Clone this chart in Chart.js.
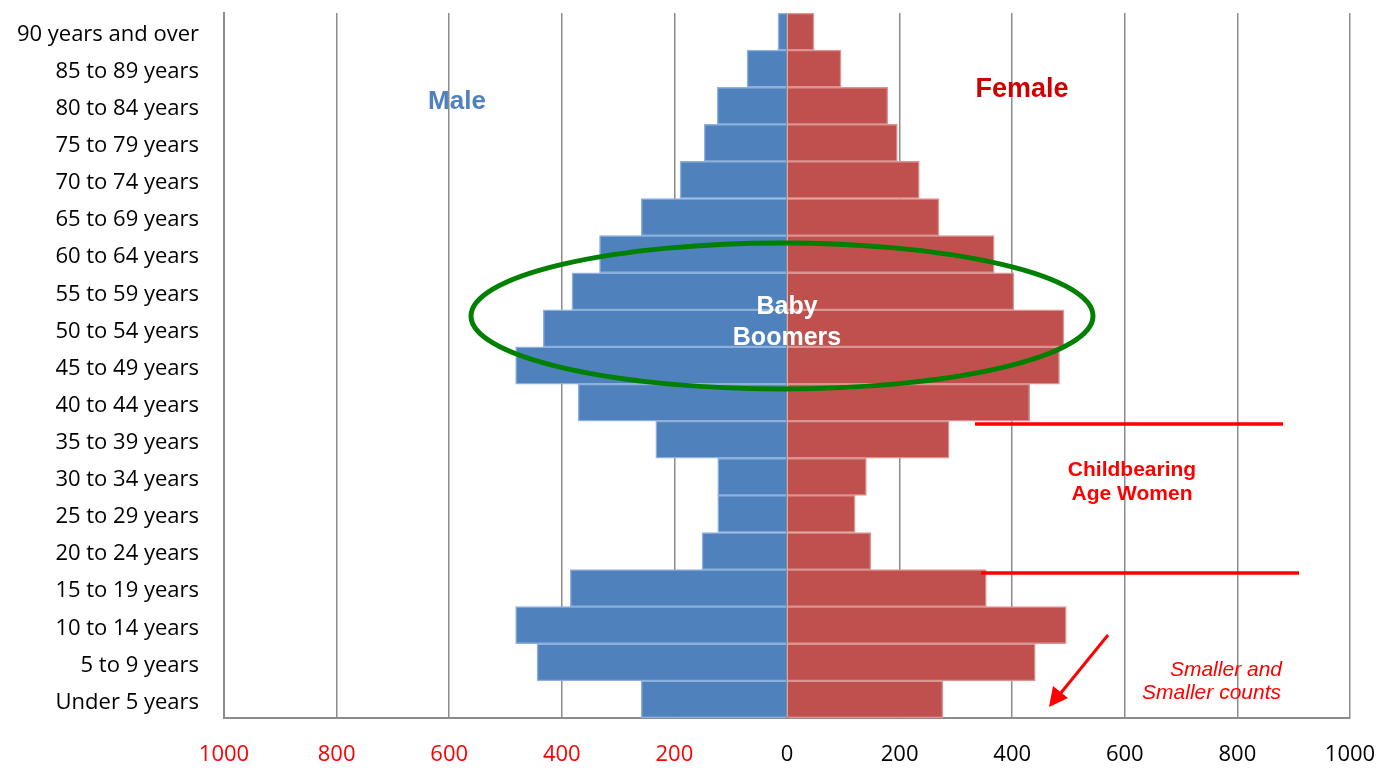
<!DOCTYPE html>
<html>
<head>
<meta charset="utf-8">
<script src="https://cdn.jsdelivr.net/npm/chart.js@4"></script>
<style>
    html, body { margin: 0; padding: 0; background: #fff; }
    #wrap { width: 1393px; height: 769px; }
</style>
</head>
<body>
<div id="wrap"><canvas id="piramide" width="1393" height="769"></canvas></div>
<script>
// Grupos de edad (de arriba hacia abajo)
const grupos = [
    '90 years and over', '85 to 89 years', '80 to 84 years', '75 to 79 years',
    '70 to 74 years', '65 to 69 years', '60 to 64 years', '55 to 59 years',
    '50 to 54 years', '45 to 49 years', '40 to 44 years', '35 to 39 years',
    '30 to 34 years', '25 to 29 years', '20 to 24 years', '15 to 19 years',
    '10 to 14 years', '5 to 9 years', 'Under 5 years'
];

// Hombres (se dibujan hacia la izquierda)
const hombres = [16, 71, 124, 147, 190, 259, 333, 382, 433, 482, 371, 233, 123, 123, 151, 385, 482, 444, 259];

// Mujeres
const mujeres = [48, 96, 179, 196, 235, 270, 368, 403, 492, 484, 431, 288, 141, 121, 149, 354, 496, 441, 277];

// Marcas del eje x
const marcasX = [-1000, -800, -600, -400, -200, 0, 200, 400, 600, 800, 1000];

const fuente = '"Open Sans", Lato, sans-serif';
const negrita = '"Liberation Sans", Arial, sans-serif';

// Anotaciones encima de las barras
const anotaciones = {
    id: 'anotaciones',
    afterDatasetsDraw(chart) {
        const ctx = chart.ctx;
        ctx.save();

        // Elipse de los baby boomers
        ctx.strokeStyle = '#008000';
        ctx.lineWidth = 5;
        ctx.beginPath();
        ctx.ellipse(782, 316, 311, 73, 0, 0, Math.PI * 2);
        ctx.stroke();

        ctx.textAlign = 'center';
        ctx.textBaseline = 'middle';
        ctx.fillStyle = '#ffffff';
        ctx.font = 'bold 25px ' + negrita;
        ctx.fillText('Baby', 787, 307);
        ctx.fillText('Boomers', 787, 338);

        ctx.fillStyle = '#4F81BD';
        ctx.font = 'bold 26px ' + negrita;
        ctx.fillText('Male', 457, 102);

        ctx.fillStyle = '#D00000';
        ctx.font = 'bold 27px ' + negrita;
        ctx.fillText('Female', 1022, 90);

        // Lineas de edad fertil
        ctx.strokeStyle = '#FF0000';
        ctx.lineWidth = 3.5;
        ctx.beginPath();
        ctx.moveTo(975, 424); ctx.lineTo(1283, 424);
        ctx.moveTo(981, 573); ctx.lineTo(1299, 573);
        ctx.stroke();

        ctx.fillStyle = '#FF0000';
        ctx.font = 'bold 21px ' + negrita;
        ctx.fillText('Childbearing', 1132, 470);
        ctx.fillText('Age Women', 1132, 494);

        ctx.textAlign = 'right';
        ctx.font = 'italic 21px ' + negrita;
        ctx.fillText('Smaller and', 1282, 670);
        ctx.fillText('Smaller counts', 1281, 693);

        // Flecha
        ctx.lineWidth = 3;
        ctx.beginPath();
        ctx.moveTo(1108, 635);
        ctx.lineTo(1060, 694);
        ctx.stroke();
        ctx.beginPath();
        ctx.moveTo(1049, 707);
        ctx.lineTo(1053, 686);
        ctx.lineTo(1068, 698);
        ctx.closePath();
        ctx.fill();

        ctx.restore();
    }
};

new Chart(document.getElementById('piramide'), {
    type: 'bar',
    data: {
        labels: grupos,
        datasets: [
            {
                label: 'Male',
                data: hombres.map(v => -v),
                backgroundColor: '#4F81BD',
                borderColor: '#8DB0DD',
                borderWidth: 1.5,
                barPercentage: 1,
                categoryPercentage: 1
            },
            {
                label: 'Female',
                data: mujeres,
                backgroundColor: '#C0504D',
                borderColor: '#DB9492',
                borderWidth: 1.5,
                barPercentage: 1,
                categoryPercentage: 1
            }
        ]
    },
    options: {
        indexAxis: 'y',
        responsive: false,
        animation: false,
        layout: { padding: { top: 13, right: 43, left: 0, bottom: 0 } },
        scales: {
            x: {
                stacked: true,
                min: -1000,
                max: 1000,
                afterBuildTicks: scale => { scale.ticks = marcasX.map(v => ({ value: v })); },
                afterFit: scale => {
                    scale.height = 51;
                    scale.paddingLeft = 0;
                    scale.paddingRight = 0;
                },
                grid: { color: '#8C8C8C', lineWidth: 1.5, drawTicks: false },
                border: { color: '#8C8C8C', width: 2 },
                ticks: {
                    padding: 24,
                    font: { family: fuente, size: 22 },
                    color: ctx => ctx.tick && ctx.tick.value < 0 ? '#FF0000' : '#000000',
                    callback: v => Math.abs(v)
                }
            },
            y: {
                stacked: true,
                afterFit: scale => {
                    scale.width = 224;
                    scale.paddingTop = 0;
                    scale.paddingBottom = 0;
                },
                grid: { display: false, drawTicks: false },
                border: { color: '#8C8C8C', width: 2 },
                ticks: {
                    padding: 25,
                    labelOffset: 3,
                    font: { family: fuente, size: 22 },
                    color: '#000000'
                }
            }
        },
        plugins: {
            legend: { display: false },
            tooltip: { enabled: false }
        }
    },
    plugins: [anotaciones]
});
</script>
</body>
</html>
